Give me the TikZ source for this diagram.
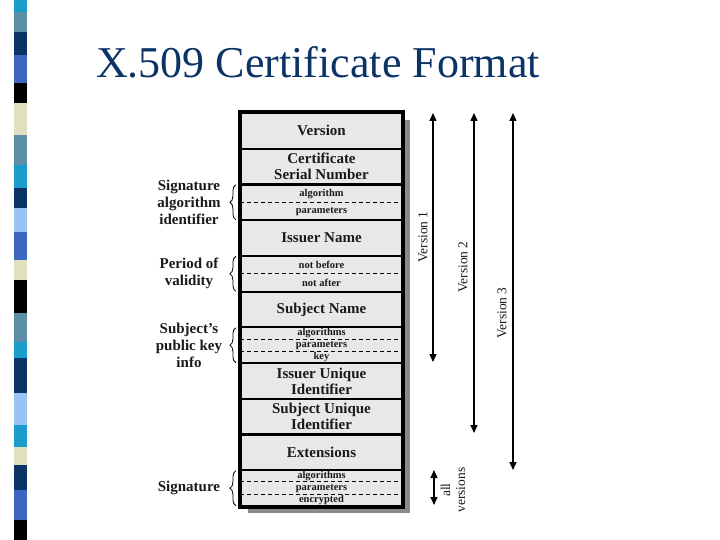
\documentclass[tikz,border=0pt]{standalone}
\usepackage{fontspec}
\setmainfont{Liberation Serif}
\usetikzlibrary{decorations.pathreplacing,arrows.meta,calc}
\definecolor{stcyan}{HTML}{1A9CCC}
\definecolor{ststeel}{HTML}{5B8FA6}
\definecolor{stnavy}{HTML}{0B3366}
\definecolor{stblue}{HTML}{3D66C4}
\definecolor{stbeige}{HTML}{E0E0C0}
\definecolor{stlight}{HTML}{99C4F2}
\definecolor{titlecol}{HTML}{0B3366}
\definecolor{rowgray}{HTML}{E8E8E8}
\definecolor{shadowgray}{HTML}{8A8A8A}
\definecolor{txt}{HTML}{1A1A1A}
\begin{document}
\begin{tikzpicture}[x=1pt,y=-1pt,
  rowbox/.style={draw=black, line width=2.2pt, fill=rowgray, minimum width=161pt,
    minimum height=35.73pt, inner sep=0pt, text=txt, align=center,
    font=\fontsize{15}{16}\selectfont\bfseries},
  subtext/.style={inner sep=0pt, text=txt, font=\fontsize{10.5}{11}\selectfont\bfseries},
  dashline/.style={dashed, dash pattern=on 4pt off 3pt, line width=0.8pt, black},
  leftlabel/.style={inner sep=0pt, align=center, text=txt,
    font=\fontsize{15}{17}\selectfont\bfseries},
  bracestyle/.style={decorate, decoration={brace, amplitude=6pt}, line width=0.8pt, black},
  verarrow/.style={{Triangle[length=8pt,width=7pt]}-{Triangle[length=8pt,width=7pt]}, line width=1.3pt, black},
  vlabel/.style={inner sep=0pt, rotate=90, text=txt, align=center,
    font=\fontsize{13.5}{15}\selectfont}
]
\useasboundingbox (0,0) rectangle (720,540);
\fill[white] (0,0) rectangle (720,540);

% left decorative strip
\foreach \ya/\yb/\c in {0/12/stcyan, 12/32/ststeel, 32/55/stnavy, 55/83/stblue, 83/103/black,
  103/135/stbeige, 135/165/ststeel, 165/188/stcyan, 188/208/stnavy, 208/232/stlight,
  232/260/stblue, 260/280/stbeige, 280/313/black, 313/342/ststeel, 342/358/stcyan,
  358/393/stnavy, 393/425/stlight, 425/447/stcyan, 447/465/stbeige, 465/490/stnavy,
  490/520/stblue, 520/540/black}
  \fill[\c] (14,\ya) rectangle (27,\yb);

% title
\node[anchor=base west, inner sep=0pt, text=titlecol, font=\fontsize{44}{48}\selectfont] (title) at (96,78) {X.509 Certificate Format};

% shadow
\fill[shadowgray] (248,120) rectangle (410,513);

% rows
\node[rowbox] (ver)     at (321.5,130.87) {Version};
\node[rowbox] (serial)  at (321.5,166.6) {Certificate\\Serial Number};
\node[rowbox] (sigalg)  at (321.5,202.33) {};
\node[rowbox] (issuer)  at (321.5,238.06) {Issuer Name};
\node[rowbox] (period)  at (321.5,273.8) {};
\node[rowbox] (subject) at (321.5,309.53) {Subject Name};
\node[rowbox] (subjkey) at (321.5,345.26) {};
\node[rowbox] (issuid)  at (321.5,381.0) {Issuer Unique\\Identifier};
\node[rowbox] (subjuid) at (321.5,416.73) {Subject Unique\\Identifier};
\node[rowbox] (ext)     at (321.5,452.46) {Extensions};
\node[rowbox] (sig)     at (321.5,488.2) {};
\draw[line width=3pt, black] (ver.north west) rectangle (sig.south east);

% sub-fields
\node[subtext] (sa1) at ($(sigalg)+(0,-8.5)$) {algorithm};
\node[subtext] (sa2) at ($(sigalg)+(0,8.9)$) {parameters};
\draw[dashline] (sigalg.west) -- (sigalg.east);

\node[subtext] (pe1) at ($(period)+(0,-8.9)$) {not before};
\node[subtext] (pe2) at ($(period)+(0,8.9)$) {not after};
\draw[dashline] (period.west) -- (period.east);

\node[subtext] (sk1) at ($(subjkey)+(0,-11.9)$) {algorithms};
\node[subtext] (sk2) at ($(subjkey)+(0,0)$) {parameters};
\node[subtext] (sk3) at ($(subjkey)+(0,11.9)$) {key};
\draw[dashline] ($(subjkey.north west)!1/3!(subjkey.south west)$) -- ($(subjkey.north east)!1/3!(subjkey.south east)$);
\draw[dashline] ($(subjkey.north west)!2/3!(subjkey.south west)$) -- ($(subjkey.north east)!2/3!(subjkey.south east)$);

\node[subtext] (sg1) at ($(sig)+(0,-11.9)$) {algorithms};
\node[subtext] (sg2) at ($(sig)+(0,0)$) {parameters};
\node[subtext] (sg3) at ($(sig)+(0,11.9)$) {encrypted};
\draw[dashline] ($(sig.north west)!1/3!(sig.south west)$) -- ($(sig.north east)!1/3!(sig.south east)$);
\draw[dashline] ($(sig.north west)!2/3!(sig.south west)$) -- ($(sig.north east)!2/3!(sig.south east)$);

% left labels and braces
\node[leftlabel] (lsig) at (189,202.3) {Signature\\algorithm\\identifier};
\node[leftlabel] (lper) at (189,273.8) {Period of\\validity};
\node[leftlabel] (lkey) at (189,345.2) {Subject's\\public key\\info};
\node[leftlabel] (lsg)  at (189,487.5) {Signature};

\draw[bracestyle] ($(sigalg.south west)+(-4,-1.5)$) -- ($(sigalg.north west)+(-4,1.5)$);
\draw[bracestyle] ($(period.south west)+(-4,-1.5)$) -- ($(period.north west)+(-4,1.5)$);
\draw[bracestyle] ($(subjkey.south west)+(-4,-1.5)$) -- ($(subjkey.north west)+(-4,1.5)$);
\draw[bracestyle] ($(sig.south west)+(-4,-1.5)$) -- ($(sig.north west)+(-4,1.5)$);

% version arrows
\coordinate (v1t) at (433,113);
\coordinate (v1b) at (433,362);
\coordinate (v2t) at (474,113);
\coordinate (v2b) at (474,433);
\coordinate (v3t) at (513,113);
\coordinate (v3b) at (513,470);
\coordinate (avt) at (434,470);
\coordinate (avb) at (434,505);
\draw[verarrow] (v1t) -- (v1b);
\draw[verarrow] (v2t) -- (v2b);
\draw[verarrow] (v3t) -- (v3b);
\draw[verarrow] (avt) -- (avb);

\node[vlabel] (v1l) at (423,237) {Version 1};
\node[vlabel] (v2l) at (463,267) {Version 2};
\node[vlabel] (v3l) at (502,313) {Version 3};
\node[vlabel] (avl) at (453,490) {all\\versions};
\end{tikzpicture}
\end{document}
